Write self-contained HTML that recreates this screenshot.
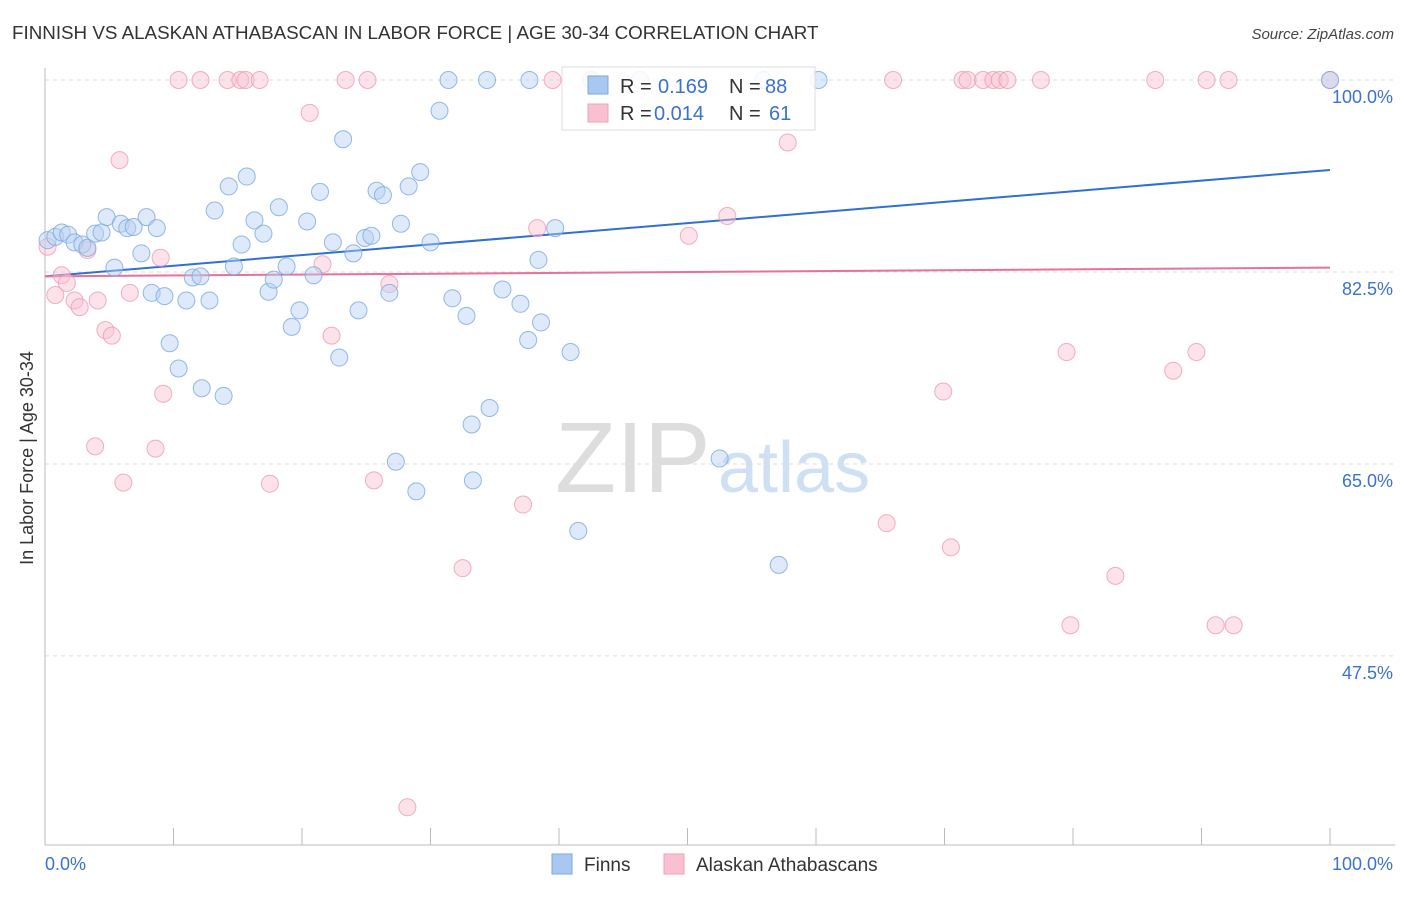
<!DOCTYPE html>
<html><head><meta charset="utf-8"><style>
body{margin:0;background:#fff;font-family:"Liberation Sans",sans-serif;}
svg text{font-family:"Liberation Sans",sans-serif;}
</style></head><body>
<svg id="chart" width="1406" height="892">
<text x="12" y="39" font-size="18.8" fill="#333">FINNISH VS ALASKAN ATHABASCAN IN LABOR FORCE | AGE 30-34 CORRELATION CHART</text>
<text x="1394" y="39" font-size="15" fill="#444" text-anchor="end" font-style="italic">Source: ZipAtlas.com</text>
<text x="33" y="458" font-size="18" fill="#333" text-anchor="middle" transform="rotate(-90 33 458)">In Labor Force | Age 30-34</text>
<g>
<text x="555" y="492" font-size="100" fill="#ddd" font-family="Liberation Serif,serif">ZIP</text>
<text x="718" y="492" font-size="72" fill="#cfe0f5">atlas</text>
</g>
<g id="grid"></g><g id="axes"></g><g id="lines"></g><g id="pts"></g>
<g>
<rect x="562" y="67" width="253" height="63" fill="#fff" fill-opacity="0.85" stroke="#ddd"/>
<rect x="588" y="76" width="20" height="18" fill="#a8c8f0" stroke="#7aa8e0"/>
<text x="620" y="93" font-size="20" fill="#333">R =</text>
<text x="658" y="93" font-size="20" fill="#3a72d0">0.169</text>
<text x="729" y="93" font-size="20" fill="#333">N =</text>
<text x="765" y="93" font-size="20" fill="#3a72d0">88</text>
<rect x="588" y="104" width="20" height="18" fill="#f8c0d0" stroke="#f0a0b8"/>
<text x="620" y="120" font-size="20" fill="#333">R =</text>
<text x="654" y="120" font-size="20" fill="#3a72d0">0.014</text>
<text x="729" y="120" font-size="20" fill="#333">N =</text>
<text x="769" y="120" font-size="20" fill="#3a72d0">61</text>
</g>
<g>
<rect x="552" y="854" width="20" height="20" fill="#a8c8f0" stroke="#7aa8e0"/>
<text x="584" y="871" font-size="19" fill="#333">Finns</text>
<rect x="664" y="854" width="20" height="20" fill="#f8c0d0" stroke="#f0a0b8"/>
<text x="696" y="871" font-size="19" fill="#333">Alaskan Athabascans</text>
</g>
</svg>
<script>
const yTicks=[100,82.5,65,47.5];
const yTickLabels=["100.0%","82.5%","65.0%","47.5%"];
const xTickLabels=["0.0%","100.0%"];
const finnX=[0.2,0.8,1.3,1.8,2.3,2.9,3.3,3.9,4.4,4.8,5.4,5.9,6.4,6.9,7.5,7.9,8.3,8.7,9.3,9.7,10.4,11.0,11.5,12.1,12.2,12.8,13.2,13.9,14.3,14.7,15.3,15.7,16.3,17.0,17.4,17.8,18.2,18.8,19.2,19.8,20.4,20.9,21.4,22.4,22.9,23.2,24.0,24.4,24.9,25.4,25.8,26.3,26.8,27.3,27.7,28.3,28.9,29.2,30.0,30.7,31.4,31.7,32.8,33.2,33.3,34.4,34.6,35.6,37.0,37.7,38.4,38.6,37.6,39.7,40.9,41.5,42.5,46.3,52.5,55.9,57.1,60.2,100];
const finnY=[85.4,85.7,86.1,85.9,85.2,85.0,84.7,86.0,86.1,87.5,82.9,86.9,86.5,86.6,84.2,87.5,80.6,86.5,80.3,76.0,73.7,79.9,82.0,82.1,71.9,79.9,88.1,71.2,90.3,83.0,85.0,91.2,87.2,86.0,80.7,81.8,88.4,83.0,77.5,79.0,87.1,82.2,89.8,85.2,74.7,94.6,84.2,79.0,85.6,85.8,89.9,89.5,80.6,65.2,86.9,90.3,62.5,91.6,85.2,97.2,100,80.1,78.5,68.6,63.5,100,70.1,80.9,79.6,100,83.6,77.9,76.3,86.5,75.2,58.9,100,100,65.5,100,55.8,100,100];
const akX=[0.2,0.8,1.3,1.7,2.3,2.7,3.3,3.9,4.1,4.7,5.2,5.8,6.1,6.6,8.6,9.0,9.2,10.4,12.1,14.2,15.2,15.6,16.7,17.5,20.6,21.6,22.3,23.4,25.1,25.6,26.8,28.2,32.5,37.2,38.3,39.5,50.1,53.1,57.8,65.5,66.0,69.9,70.5,71.4,71.8,73.0,73.8,74.3,74.9,77.5,79.5,79.8,83.3,86.4,87.8,89.6,90.4,91.1,92.1,92.5,100];
const akY=[84.8,80.4,82.2,81.5,79.9,79.3,84.5,66.6,79.9,77.2,76.7,92.7,63.3,80.6,66.4,83.8,71.4,100,100,100,100,100,100,63.2,97.0,83.2,76.7,100,100,63.5,81.4,33.7,55.5,61.3,86.5,100,85.8,87.6,94.3,59.6,100,71.6,57.4,100,100,100,100,100,100,100,75.2,50.3,54.8,100,73.5,75.2,100,50.3,100,50.3,100];
const finnTrend=[82.1,91.8];
const akTrend=[82.1,82.9];
const X=v=>45+v*12.85, Y=v=>80+(100-v)*10.97;
const NS="http://www.w3.org/2000/svg";
function mk(p,t,a){const e=document.createElementNS(NS,t);for(const k in a)e.setAttribute(k,a[k]);p.appendChild(e);return e;}
const grid=document.getElementById('grid'),axes=document.getElementById('axes');
yTicks.forEach((v,i)=>{
 const l=mk(grid,'line',{x1:45,x2:1395,y1:Y(v),y2:Y(v),stroke:'#ddd','stroke-dasharray':'4,4'});
 
 
 const t=mk(axes,'text',{x:1393,y:Y(v)+23,'font-size':18,fill:'#3a72d0','text-anchor':'end'});
 t.textContent=yTickLabels[i];
 
 
});
const la=mk(axes,'line',{x1:45,x2:45,y1:68,y2:845,stroke:'#bbb'});


const ba=mk(axes,'line',{x1:45,x2:1395,y1:845,y2:845,stroke:'#bbb'});


for(let i=0;i<=10;i++){const tk=mk(axes,'line',{x1:X(i*10),x2:X(i*10),y1:828,y2:845,stroke:'#bbb'});
 
 }
[[0,'start',45],[100,'end',1393]].forEach((d,i)=>{const t=mk(axes,'text',{x:d[2],y:870,'font-size':18,fill:'#3a72d0','text-anchor':d[1]});t.textContent=xTickLabels[i];
 
 });
const pts=document.getElementById('pts');
function drawPts(xs,ys,fill,stroke,name){xs.forEach((x,i)=>{const c=mk(pts,'circle',{cx:X(x),cy:Y(ys[i]),r:8.5,fill:fill,'fill-opacity':0.45,stroke:stroke,'stroke-opacity':0.8,'stroke-width':1});
 
 });}
drawPts(akX,akY,'#f8c0d0','#ee9ab5','alaskan-point');
drawPts(finnX,finnY,'#b5d0f2','#7aa8e0','finn-point');
const lines=document.getElementById('lines');
const l1=mk(lines,'line',{x1:X(0),x2:X(100),y1:Y(finnTrend[0]),y2:Y(finnTrend[1]),stroke:'#2f6fd6','stroke-width':2});


const l2=mk(lines,'line',{x1:X(0),x2:X(100),y1:Y(akTrend[0]),y2:Y(akTrend[1]),stroke:'#e8709a','stroke-width':2});


</script>
</body></html>
